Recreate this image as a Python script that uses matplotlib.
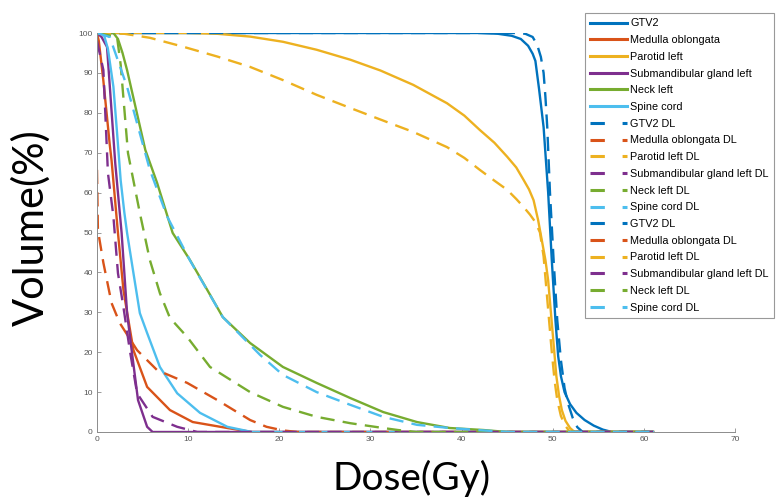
import matplotlib
matplotlib.use("Agg")
import matplotlib.pyplot as plt
from matplotlib.lines import Line2D

# 結構名稱與 MATLAB 預設顏色
names = ["GTV2", "Medulla oblongata", "Parotid left",
         "Submandibular gland left", "Neck left", "Spine cord"]
colors = ["#0072BD", "#D95319", "#EDB120", "#7E2F8E", "#77AC30", "#4DBEEE"]

# 原始計畫 DVH (Dose Gy, Volume %)
gtv2_x = [0, 42, 44, 45.5, 46.5, 47.3, 47.8, 48.1, 48.5, 49.0, 49.5, 49.9, 50.3, 50.6,
          50.9, 51.3, 51.9, 52.6, 53.5, 54.5, 55.5, 56.5, 61]
gtv2_y = [100, 100, 99.8, 99.3, 98.5, 96.8, 94.8, 93, 86, 76.4, 60, 43, 28, 19,
          14, 10, 7, 4.8, 3, 1.6, 0.6, 0, 0]

medulla_x = [0, 0.2, 0.7, 1.4, 1.6, 2.3, 2.9, 3.3, 4.0, 5.5, 8.0, 10.5, 14.3, 17, 61]
medulla_y = [100, 98, 88, 72, 68, 49.9, 35.6, 30, 20.5, 11.3, 5.5, 2.5, 1, 0, 0]

parotid_x = [0, 10, 13.2, 16.8, 20.4, 24.1, 27.8, 31.1, 34.7, 38.4, 40.3, 42, 43.6,
             45, 46, 46.8, 47.4, 47.9, 48.4, 48.8, 49.2, 49.5, 49.8, 50.1, 50.4,
             50.7, 51.0, 51.4, 51.9, 52.4, 61]
parotid_y = [100, 100, 99.8, 99.1, 97.8, 95.8, 93.3, 90.6, 87, 82.4, 79.3, 75.7, 72.5,
             69, 66.3, 63.2, 60.8, 58.1, 53.1, 48.1, 43.1, 38, 30, 22, 14,
             9, 5.5, 2.8, 1, 0, 0]

submand_x = [0, 0.5, 1.1, 2.0, 2.7, 3.3, 3.8, 4.5, 5.5, 6.1, 61]
submand_y = [100, 99, 96.5, 67.4, 49.9, 29.8, 20.5, 8, 1.3, 0, 0]

neck_x = [0, 1.8, 2.3, 2.8, 3.3, 5.3, 6.6, 8.3, 10.2, 12.1, 13.8, 16.8, 20.4, 24.1,
          27.8, 31.4, 35.1, 38.7, 42.4, 45, 61]
neck_y = [100, 100, 98.5, 95, 90.7, 70.7, 62.4, 49.9, 43.1, 35.6, 28.8, 22.3, 16.3, 12.3,
          8.5, 5, 2.5, 1, 0.5, 0, 0]

spine_x = [0, 0.7, 1.2, 1.8, 2.2, 2.6, 3.0, 3.3, 4.0, 4.7, 5.5, 6.9, 8.8, 11.3,
           14.3, 17, 61]
spine_y = [100, 100, 96, 86.5, 75, 63, 55, 49.9, 39.8, 29.8, 24.8, 16.3, 9.7, 4.8,
           1.3, 0, 0]

# DL 預測 DVH
gtv2_dl_x = [0, 46, 47, 47.8, 48.3, 48.7, 49.0, 49.2, 49.4, 49.7, 50.1, 50.5, 50.9,
             51.3, 51.7, 52.2, 52.7, 53.3, 61]
gtv2_dl_y = [100, 100, 99.8, 99, 97, 94, 90, 84, 76.4, 60, 43, 28, 18,
             11, 7, 3.5, 1.2, 0, 0]

medulla_dl_x = [0, 0.1, 0.7, 1.6, 2.5, 4.4, 6.6, 9.9, 13.2, 16.8, 18.6, 20.4, 22, 61]
medulla_dl_y = [65.7, 50.6, 42.4, 32.3, 27.3, 20.5, 15.5, 12.3, 8, 3, 1.3, 0.4, 0, 0]

parotid_dl_x = [0, 3, 5.8, 9.4, 13.2, 16.8, 20.4, 24.1, 27.8, 31.8, 34.7, 38.4, 40.3,
                42, 43.6, 45, 46, 46.8, 47.5, 48.1, 48.6, 49.0, 49.3, 49.6, 49.9,
                50.2, 50.5, 50.9, 51.4, 51.9, 61]
parotid_dl_y = [100, 99.8, 98.8, 96.6, 94.1, 91.5, 88.2, 84.5, 81.2, 77.7, 75.2, 71.4, 68.7,
                65.7, 63, 60.7, 58.4, 56.4, 54.5, 52.6, 50, 44, 36, 28, 20,
                13, 8, 4, 1.5, 0, 0]

submand_dl_x = [0, 0.7, 1.2, 1.8, 2.3, 2.9, 3.6, 4.4, 6.1, 8.8, 11, 61]
submand_dl_y = [98, 90.7, 64.9, 54, 39.8, 31.3, 20.5, 9.7, 3.8, 1.3, 0, 0]

neck_dl_x = [0, 2.2, 2.6, 3.4, 4.7, 5.8, 6.9, 8.0, 9.9, 12.4, 16.8, 20.4, 24.1, 27.8,
             31.4, 33, 35, 61]
neck_dl_y = [100, 99, 92, 69.9, 54.9, 43.1, 34.8, 28.6, 23.8, 16.3, 10, 6.3, 3.8, 2.2,
             1, 0.5, 0, 0]

spine_dl_x = [0, 1.4, 3.3, 5.8, 7.7, 10.2, 13.8, 17.9, 20.4, 24.1, 27.8, 31.4, 35.1,
              38.7, 42.4, 45, 61]
spine_dl_y = [100, 99, 86.5, 65.7, 54, 43, 28.8, 19.3, 14.3, 10, 6.8, 3.8, 1.8,
              1, 0.4, 0, 0]

plan_curves = [(gtv2_x, gtv2_y), (medulla_x, medulla_y), (parotid_x, parotid_y),
               (submand_x, submand_y), (neck_x, neck_y), (spine_x, spine_y)]
dl_curves = [(gtv2_dl_x, gtv2_dl_y), (medulla_dl_x, medulla_dl_y),
             (parotid_dl_x, parotid_dl_y), (submand_dl_x, submand_dl_y),
             (neck_dl_x, neck_dl_y), (spine_dl_x, spine_dl_y)]

x_ticks = [0, 10, 20, 30, 40, 50, 60, 70]
y_ticks = [0, 10, 20, 30, 40, 50, 60, 70, 80, 90, 100]

fig = plt.figure(figsize=(7.76, 4.97), dpi=100)
ax = fig.add_axes([97 / 776, 65 / 497, 638 / 776, 399 / 497])

for (x, y), c in zip(plan_curves, colors):
    ax.plot(x, y, color=c, linewidth=1.7, solid_joinstyle="round")
for (x, y), c in zip(dl_curves, colors):
    ax.plot(x, y, color=c, linewidth=1.7, linestyle=(0, (6, 3.5)))

ax.set_xlim(0, 70)
ax.set_ylim(0, 100)
ax.set_xticks(x_ticks)
ax.set_yticks(y_ticks)

# MATLAB 風格：只留左、下軸
for side in ["top", "right"]:
    ax.spines[side].set_visible(False)
for side in ["left", "bottom"]:
    ax.spines[side].set_color("#8c8c8c")
    ax.spines[side].set_linewidth(0.7)
ax.tick_params(direction="in", length=3, width=0.6, color="#8c8c8c",
               labelsize=6, labelcolor="#555555", pad=3)
for lab in ax.get_xticklabels() + ax.get_yticklabels():
    lab.set_family("Liberation Sans")

fig.text(31 / 776, 1 - 228 / 497, "Volume(%)", rotation=90, ha="center",
         va="center", fontsize=30, family="Lato")
fig.text(412 / 776, 1 - 478 / 497, "Dose(Gy)", ha="center", va="center",
         fontsize=28, family="Lato")

# 圖例（DL 項目重複兩次）
handles = [Line2D([], [], color=c, linewidth=2.2) for c in colors]
handles += [Line2D([], [], color=c, linewidth=2.2, linestyle=(0, (4.7, 5.8)))
            for c in colors] * 2
labels = names + [n + " DL" for n in names] * 2
leg = fig.legend(handles, labels, loc="upper left",
                 bbox_to_anchor=(585 / 776, 1 - 13 / 497),
                 bbox_transform=fig.transFigure, borderaxespad=0,
                 prop={"family": "Liberation Sans", "size": 7.8},
                 handlelength=3.4, handletextpad=0.3, labelspacing=0.62,
                 borderpad=0.5, fancybox=False, framealpha=1,
                 edgecolor="#999999")
leg.get_frame().set_linewidth(0.8)

fig.savefig("out.png", dpi=100)
